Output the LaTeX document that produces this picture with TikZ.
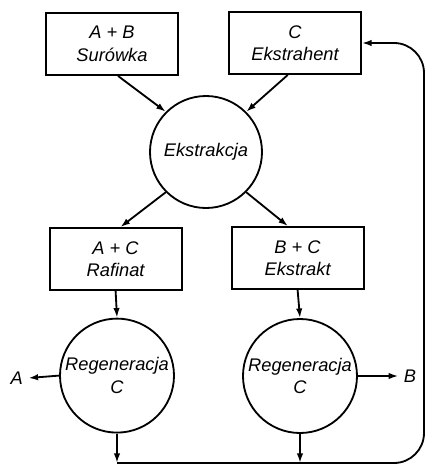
\documentclass[tikz,border=0pt]{standalone}
\usepackage{fontspec}
\setmainfont{Liberation Sans}
\usetikzlibrary{arrows.meta}
\begin{document}
\begin{tikzpicture}[line width=1.3pt,
  >={Latex[length=2.4mm,width=1.6mm]},
  napis/.style={font=\fontsize{13}{16}\selectfont\itshape},
  blok/.style={draw,napis,minimum width=3.3cm,minimum height=1.55cm,align=center},
  krag/.style={draw,circle,napis,minimum size=#1,inner sep=0pt,align=center}]
\useasboundingbox(0,0)rectangle(10.65cm,-11.825cm);
% zasilanie
\node[blok](surowka)at(2.8,-1.1){A + B\\Surówka};
\node[blok](ekstrahent)at(7.375,-1.075){C\\Ekstrahent};
\node[krag=2.8cm](ekstr)at(5.15,-3.8){Ekstrakcja};
% produkty ekstrakcji
\node[blok](rafinat)at(2.89,-6.475){A + C\\Rafinat};
\node[blok](ekstrakt)at(7.44,-6.45){B + C\\Ekstrakt};
\node[krag=2.85cm](regA)at(2.925,-9.39){Regeneracja\\C};
\node[krag=2.85cm](regB)at(7.5,-9.4){Regeneracja\\C};
\node[napis](A)at(0.42,-9.45){A};
\node[napis](B)at(10.25,-9.4){B};
\coordinate(dol)at(0,-11.575);
\coordinate(prawo)at(10.6,0);
\draw[->]([xshift=0.15cm]surowka.south)--(ekstr.north west);
\draw[->]([xshift=-0.18cm]ekstrahent.south)--(ekstr.north east);
\draw[->](ekstr.south west)--([xshift=0.12cm]rafinat.north);
\draw[->](ekstr.south east)--([xshift=-0.24cm]ekstrakt.north);
\draw[->](rafinat.south)--(regA.north);
\draw[->](ekstrakt.south)--(regB.north);
\draw[->](regA.west)--(A.east);
\draw[->](regB.east)--(B.west);
\draw[->](regA.south)--(regA.south |- dol);
\draw[->](regB.south)--(regB.south |- dol);
% zawrot ekstrahenta
\draw[->,rounded corners=0.75cm](regA.south |- dol)--(dol -| prawo)--(ekstrahent.east -| prawo)--(ekstrahent.east);
\end{tikzpicture}
\end{document}
